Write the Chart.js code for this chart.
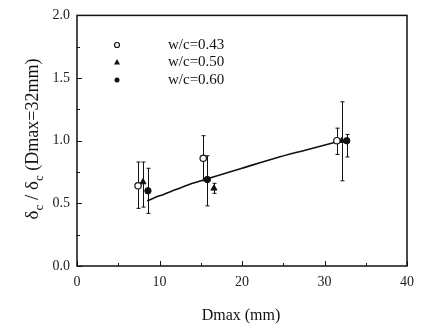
<!DOCTYPE html>
<html><head><meta charset="utf-8">
<script src="https://cdn.jsdelivr.net/npm/chart.js@4/dist/chart.umd.min.js"></script>
<style>html,body{margin:0;padding:0;background:#fff}canvas{display:block}</style>
</head><body>
<canvas id="c" width="422" height="328"></canvas>
<script>
const seriesNames = ['w/c=0.43', 'w/c=0.50', 'w/c=0.60'];
const wc043X = [7.4, 15.3, 31.5];
const wc043Y = [0.64, 0.86, 1.00];
const wc043Lo = [0.46, 0.68, 0.89];
const wc043Hi = [0.83, 1.04, 1.10];
const wc050X = [8.0, 16.6, 32.1];
const wc050Y = [0.67, 0.62, 1.00];
const wc050Lo = [0.47, 0.58, 0.68];
const wc050Hi = [0.83, 0.66, 1.31];
const wc060X = [8.6, 15.8, 32.7];
const wc060Y = [0.60, 0.69, 1.00];
const wc060Lo = [0.42, 0.48, 0.87];
const wc060Hi = [0.78, 0.88, 1.05];
const fitX = [8.5, 10, 12, 14, 16, 20, 24, 28, 32];
const fitY = [0.52, 0.56, 0.61, 0.66, 0.70, 0.78, 0.86, 0.93, 1.00];
const xTicks = [0, 10, 20, 30, 40];
const yTicks = [0.0, 0.5, 1.0, 1.5, 2.0];

const pts = (xs, ys) => xs.map((x, i) => ({x, y: ys[i]}));
const errSets = [
  {x: wc043X, lo: wc043Lo, hi: wc043Hi},
  {x: wc050X, lo: wc050Lo, hi: wc050Hi},
  {x: wc060X, lo: wc060Lo, hi: wc060Hi}
];
const SERIF = '"Liberation Serif", "DejaVu Serif", serif';

const decor = {
  id: 'decor',
  beforeDatasetsDraw(chart) {
    const ctx = chart.ctx, xs = chart.scales.x, ys = chart.scales.y;
    ctx.save();
    ctx.strokeStyle = '#111';
    ctx.lineWidth = 1;
    errSets.forEach(s => {
      s.x.forEach((xv, i) => {
        const px = Math.round(xs.getPixelForValue(xv)) + 0.5;
        const pl = ys.getPixelForValue(s.lo[i]);
        const ph = ys.getPixelForValue(s.hi[i]);
        ctx.beginPath();
        ctx.moveTo(px, pl); ctx.lineTo(px, ph);
        ctx.moveTo(px - 2, pl); ctx.lineTo(px + 2, pl);
        ctx.moveTo(px - 2, ph); ctx.lineTo(px + 2, ph);
        ctx.stroke();
      });
    });
    ctx.restore();
  },
  afterDraw(chart) {
    const ctx = chart.ctx, a = chart.chartArea, xs = chart.scales.x, ys = chart.scales.y;
    ctx.save();
    ctx.strokeStyle = '#111';
    ctx.lineWidth = 1.5;
    ctx.strokeRect(a.left, a.top, a.right - a.left, a.bottom - a.top);
    ctx.lineWidth = 1;
    for (let v = 0; v <= 40; v += 5) {
      const px = Math.round(xs.getPixelForValue(v)) + 0.5;
      const len = (v % 10 === 0) ? 5 : 3;
      ctx.beginPath(); ctx.moveTo(px, a.bottom); ctx.lineTo(px, a.bottom - len); ctx.stroke();
    }
    for (let k = 0; k <= 8; k++) {
      const v = k * 0.25;
      const py = Math.round(ys.getPixelForValue(v)) + 0.5;
      const len = (k % 2 === 0) ? 5 : 3;
      ctx.beginPath(); ctx.moveTo(a.left, py); ctx.lineTo(a.left + len, py); ctx.stroke();
    }
    // legend
    ctx.fillStyle = '#111';
    ctx.font = '15px ' + SERIF;
    ctx.textBaseline = 'middle';
    const ly = [45, 62, 80];
    seriesNames.forEach((n, i) => {
      const mx = 117, my = ly[i];
      ctx.beginPath();
      if (i === 0) {
        ctx.arc(mx, my, 2.5, 0, Math.PI * 2);
        ctx.fillStyle = '#fff'; ctx.fill(); ctx.lineWidth = 1.2; ctx.stroke();
      } else if (i === 1) {
        ctx.moveTo(mx, my - 3); ctx.lineTo(mx + 3, my + 2.5); ctx.lineTo(mx - 3, my + 2.5); ctx.closePath();
        ctx.fillStyle = '#111'; ctx.fill();
      } else {
        ctx.arc(mx, my, 2.5, 0, Math.PI * 2);
        ctx.fillStyle = '#111'; ctx.fill();
      }
      ctx.fillStyle = '#111';
      ctx.fillText(n, 168, my);
    });
    // x title
    ctx.font = '16px ' + SERIF;
    ctx.textAlign = 'center';
    ctx.textBaseline = 'alphabetic';
    ctx.fillText('Dmax (mm)', 241, 320);
    // y title with subscripts
    ctx.translate(38, 139);
    ctx.rotate(-Math.PI / 2);
    const parts = [['δ', 0, 19], ['c', 5, 13], [' / δ', 0, 19], ['c', 5, 13], [' (Dmax=32mm)', 0, 18]];
    let w = 0;
    parts.forEach(p => { ctx.font = p[2] + 'px ' + SERIF; w += ctx.measureText(p[0]).width; });
    let x0 = -w / 2;
    ctx.textAlign = 'left';
    parts.forEach(p => {
      ctx.font = p[2] + 'px ' + SERIF;
      ctx.fillText(p[0], x0, p[1]);
      x0 += ctx.measureText(p[0]).width;
    });
    ctx.restore();
  }
};

new Chart(document.getElementById('c'), {
  type: 'scatter',
  data: {
    datasets: [
      {label: 'fit', type: 'line', data: pts(fitX, fitY), borderColor: '#111', borderWidth: 1.6,
       pointRadius: 0, fill: false, cubicInterpolationMode: 'monotone', order: 5},
      {label: seriesNames[0], data: pts(wc043X, wc043Y), pointStyle: 'circle', pointRadius: 3.2,
       backgroundColor: '#fff', borderColor: '#111', borderWidth: 1.2, order: 1},
      {label: seriesNames[1], data: pts(wc050X, wc050Y), pointStyle: 'triangle', pointRadius: 3.5,
       backgroundColor: '#111', borderColor: '#111', borderWidth: 1, order: 2},
      {label: seriesNames[2], data: pts(wc060X, wc060Y), pointStyle: 'circle', pointRadius: 3.2,
       backgroundColor: '#111', borderColor: '#111', borderWidth: 1, order: 3}
    ]
  },
  options: {
    responsive: false,
    animation: false,
    devicePixelRatio: 1,
    layout: {padding: {left: 0, top: 10, right: 15, bottom: 0}},
    plugins: {legend: {display: false}, tooltip: {enabled: false}},
    scales: {
      x: {
        type: 'linear', min: 0, max: 40,
        afterBuildTicks: s => { s.ticks = xTicks.map(v => ({value: v})); },
        afterFit: s => { s.height = 62; },
        grid: {display: false, drawTicks: false},
        border: {display: false},
        ticks: {padding: 8, color: '#222', font: {family: SERIF, size: 14}, callback: v => String(v), maxRotation: 0}
      },
      y: {
        type: 'linear', min: 0, max: 2,
        afterBuildTicks: s => { s.ticks = yTicks.map(v => ({value: v})); },
        afterFit: s => { s.width = 77; },
        grid: {display: false, drawTicks: false},
        border: {display: false},
        ticks: {padding: 7, color: '#222', font: {family: SERIF, size: 14}, callback: v => Number(v).toFixed(1)}
      }
    }
  },
  plugins: [decor]
});
</script>
</body></html>
